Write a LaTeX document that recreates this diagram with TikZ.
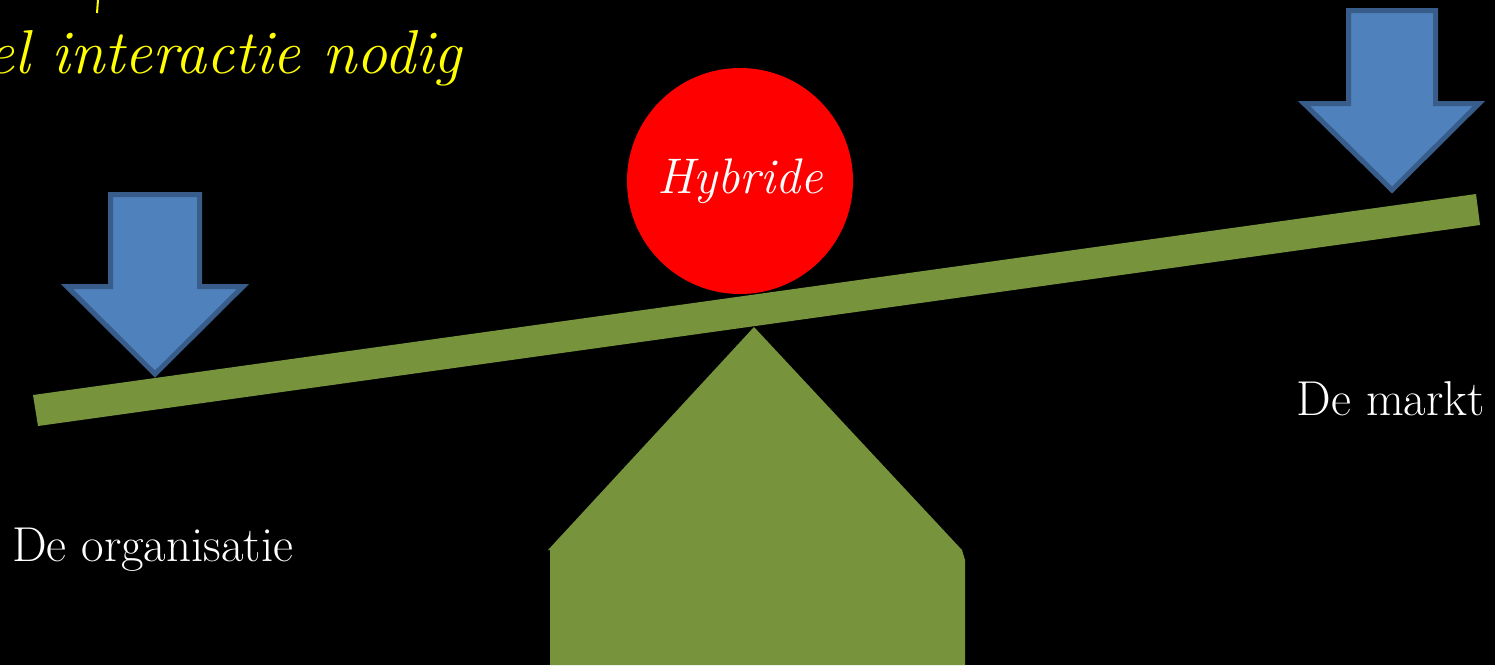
\documentclass[tikz,border=0pt]{standalone}
\usepackage{fontspec}
\begin{document}
\begin{tikzpicture}[x=1pt,y=-1pt,
  green/.style={fill=beamgreen,draw=none},
  arrowshape/.style={fill=arrowblue,draw=arrowedge,line width=5pt,line join=miter},
  lbl/.style={text=white,inner sep=0pt}]
\definecolor{beamgreen}{HTML}{77933C}
\definecolor{arrowblue}{HTML}{4F81BD}
\definecolor{arrowedge}{HTML}{385D8A}
\definecolor{heavyred}{HTML}{FF0000}
\definecolor{txtyellow}{HTML}{FFFF00}
\fill[black] (0,0) rectangle (1495,665);
\useasboundingbox (0,0) rectangle (1495,665);
\begin{scope}
\clip (0,0) rectangle (1495,665);
% yellow heading (cut off)
\node[anchor=base east,text=txtyellow,inner sep=0pt,font=\fontsize{62}{68}\selectfont\itshape] (head) at (462,73) {el interactie nodig};
\draw[txtyellow,line width=2pt] (98,0) -- (97,13);
% fulcrum
\fill[beamgreen] (754,327) -- (962,550) -- (965,560) -- (965,665) -- (550,665) -- (550,550) -- (548,550) -- cycle;
% beam
\fill[beamgreen] (33,395) -- (1476,194) -- (1480,225) -- (38,426) -- cycle;
% arrows
\draw[arrowshape] (110.5,194.5) -- (199.5,194.5) -- (199.5,286.5) -- (243,286.5) -- (155,374) -- (67,286.5) -- (110.5,286.5) -- cycle;
\draw[arrowshape] (1348.5,10.5) -- (1435.5,10.5) -- (1435.5,103.5) -- (1479,103.5) -- (1392,190) -- (1304,103.5) -- (1348.5,103.5) -- cycle;
% ball
\node[circle,fill=heavyred,minimum size=226pt,inner sep=0pt,text=white,font=\fontsize{50}{56}\selectfont\itshape] (ball) at (740,181) {Hybride};
% labels
\node[lbl,anchor=base west,font=\fontsize{49}{56}\selectfont] (org) at (12,561) {De organisatie};
\node[lbl,anchor=base east,font=\fontsize{49}{56}\selectfont] (markt) at (1485,415) {De markt};
\end{scope}
\end{tikzpicture}
\end{document}
